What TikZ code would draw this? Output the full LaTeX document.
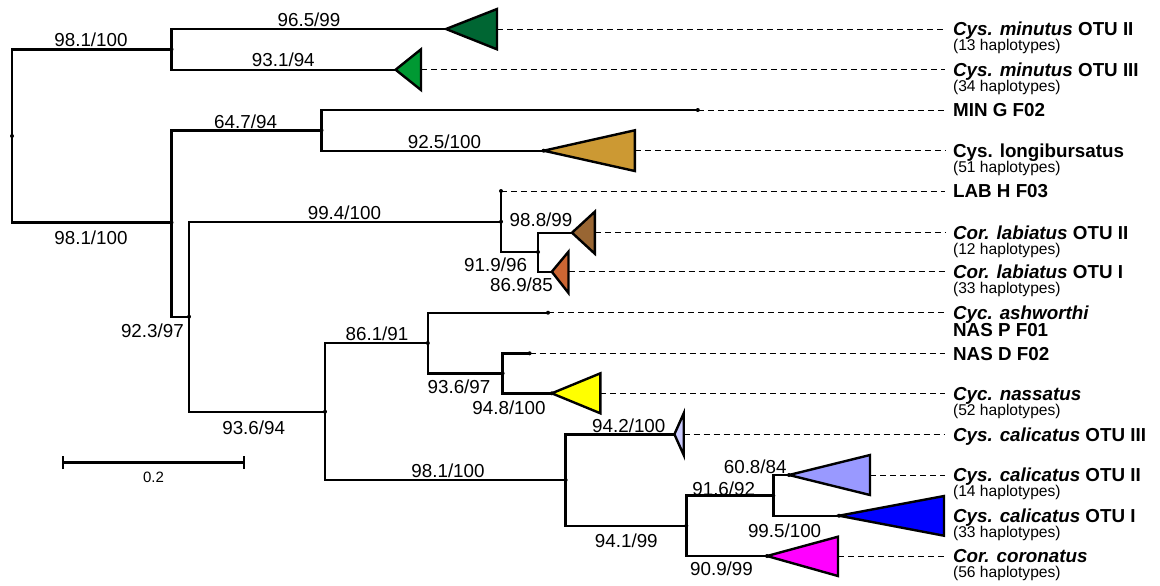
\documentclass[tikz,border=0pt]{standalone}
\usepackage{fontspec}
\setmainfont{Liberation Sans}
\usetikzlibrary{arrows.meta}

\definecolor{cMinII}{RGB}{0,102,51}
\definecolor{cMinIII}{RGB}{0,153,51}
\definecolor{cLong}{RGB}{204,153,51}
\definecolor{cLabII}{RGB}{153,102,51}
\definecolor{cLabI}{RGB}{204,102,51}
\definecolor{cNas}{RGB}{255,255,0}
\definecolor{cCalIII}{RGB}{204,204,255}
\definecolor{cCalII}{RGB}{153,153,255}
\definecolor{cCalI}{RGB}{0,0,255}
\definecolor{cCor}{RGB}{255,0,255}

\begin{document}
\begin{tikzpicture}[x=0.5pt, y=-0.5pt,
  br/.style={line width=1.2pt},
  clade/.style={line width=1.2pt, line join=miter},
  leader/.style={line width=0.5pt, dash pattern=on 3pt off 2pt},
  bs/.style={font=\fontsize{9.4}{11}\selectfont, inner sep=0pt},
  lab/.style={font=\fontsize{9.4}{11}\selectfont\bfseries, anchor=west, inner xsep=3.85pt, inner ysep=0pt, text height=6.73pt, text depth=0pt},
  hap/.style={font=\fontsize{7.8}{9}\selectfont, anchor=base west, inner xsep=3.85pt, inner ysep=0pt}]
\def\r{2}
\def\hs{-7.5pt}

\fill[white] (0,0) rectangle (1160,585);
\useasboundingbox (0,0) rectangle (1160,585);

% inner nodes
\coordinate (root) at (12,136);
\coordinate (nMin) at (171.5,49.3);
\coordinate (nB) at (171.5,222.5);
\coordinate (nC) at (321.5,130.3);
\coordinate (nD) at (189,316.7);
\coordinate (nE) at (501,221.7);
\coordinate (nF) at (538,252);
\coordinate (nI) at (325,411.7);
\coordinate (nG) at (427.8,343);
\coordinate (nH) at (502.6,373.3);
\coordinate (nJ) at (565.6,480);
\coordinate (nK) at (686.3,525.8);
\coordinate (nL) at (773.3,495.5);

% single tips
\coordinate (eMinG) at (697.8,110);
\coordinate (eLabH) at (501,191);
\coordinate (eAsh) at (548,312.7);
\coordinate (eNasD) at (529.6,353.3);

% collapsed clades: apex and middle of the far side
\coordinate (aMinII) at (446,29);      \coordinate (eMinII) at (497,29);
\coordinate (aMinIII) at (395.6,69.7); \coordinate (eMinIII) at (421,69.7);
\coordinate (aLong) at (543.7,150.7);  \coordinate (eLong) at (634.8,150.7);
\coordinate (aLabII) at (572,232.7);   \coordinate (eLabII) at (594.8,232.7);
\coordinate (aLabI) at (551.8,271.7);  \coordinate (eLabI) at (568.5,271.7);
\coordinate (aNas) at (551.8,393.3);   \coordinate (eNas) at (600.4,393.3);
\coordinate (aCalIII) at (674.4,434.3); \coordinate (eCalIII) at (683.7,434.3);
\coordinate (aCalII) at (789,475);     \coordinate (eCalII) at (870,475);
\coordinate (aCalI) at (839,515.7);    \coordinate (eCalI) at (944,515.7);
\coordinate (aCor) at (767,556);       \coordinate (eCor) at (838,556);

\draw[br] (root) |- (nMin);
\draw[br] (root) |- (nB);
\draw[br] (nMin) |- (aMinII);
\draw[br] (nMin) |- (aMinIII);
\draw[br] (nB) |- (nC);
\draw[br] (nB) |- (nD);
\draw[br] (nC) |- (eMinG);
\draw[br] (nC) |- (aLong);
\draw[br] (nD) |- (nE);
\draw[br] (nD) |- (nI);
\draw[br] (nE) |- (eLabH);
\draw[br] (nE) |- (nF);
\draw[br] (nF) |- (aLabII);
\draw[br] (nF) |- (aLabI);
\draw[br] (nI) |- (nG);
\draw[br] (nI) |- (nJ);
\draw[br] (nG) |- (eAsh);
\draw[br] (nG) |- (nH);
\draw[br] (nH) |- (eNasD);
\draw[br] (nH) |- (aNas);
\draw[br] (nJ) |- (aCalIII);
\draw[br] (nJ) |- (nK);
\draw[br] (nK) |- (nL);
\draw[br] (nK) |- (aCor);
\draw[br] (nL) |- (aCalII);
\draw[br] (nL) |- (aCalI);

\filldraw[clade, fill=cMinII] (aMinII) -- (497,9) -- (497,49.3) -- cycle;
\filldraw[clade, fill=cMinIII] (aMinIII) -- (421,49.3) -- (421,90) -- cycle;
\filldraw[clade, fill=cLong] (aLong) -- (634.8,130.3) -- (634.8,171) -- cycle;
\filldraw[clade, fill=cLabII] (aLabII) -- (594.8,211.7) -- (594.8,253.7) -- cycle;
\filldraw[clade, fill=cLabI] (aLabI) -- (568.5,251.7) -- (568.5,293) -- cycle;
\filldraw[clade, fill=cNas] (aNas) -- (600.4,373.3) -- (600.4,413.3) -- cycle;
\filldraw[clade, fill=cCalIII] (aCalIII) -- (683.7,413.3) -- (683.7,455) -- cycle;
\filldraw[clade, fill=cCalII] (aCalII) -- (870,455) -- (870,495) -- cycle;
\filldraw[clade, fill=cCalI] (aCalI) -- (944,496) -- (944,535.7) -- cycle;
\filldraw[clade, fill=cCor] (aCor) -- (838,536.7) -- (838,576) -- cycle;

\fill (root) circle (\r) (nMin) circle (\r) (nB) circle (\r) (nC) circle (\r)
  (nD) circle (\r) (nE) circle (\r) (nF) circle (\r) (nI) circle (\r)
  (nG) circle (\r) (nH) circle (\r) (nJ) circle (\r) (nK) circle (\r)
  (nL) circle (\r) (eMinG) circle (\r) (eLabH) circle (\r) (eAsh) circle (\r)
  (eNasD) circle (\r) (aLong) circle (\r) (aCalII) circle (\r) (aCalI) circle (\r)
  (aCor) circle (\r) (aNas) circle (\r);

% tip labels
\node[lab] (lMinII) at (945,29) {\textit{Cys. minutus} OTU II};
\node[hap] (hMinII) at ([yshift=\hs]lMinII.base west) {(13 haplotypes)};
\node[lab] (lMinIII) at (945,69.7) {\textit{Cys. minutus} OTU III};
\node[hap] (hMinIII) at ([yshift=\hs]lMinIII.base west) {(34 haplotypes)};
\node[lab] (lMinG) at (945,110) {MIN G F02};
\node[lab] (lLong) at (945,150.7) {Cys. longibursatus};
\node[hap] (hLong) at ([yshift=\hs]lLong.base west) {(51 haplotypes)};
\node[lab] (lLabH) at (945,191) {LAB H F03};
\node[lab] (lLabII) at (945,232.7) {\textit{Cor. labiatus} OTU II};
\node[hap] (hLabII) at ([yshift=\hs]lLabII.base west) {(12 haplotypes)};
\node[lab] (lLabI) at (945,271.7) {\textit{Cor. labiatus} OTU I};
\node[hap] (hLabI) at ([yshift=\hs]lLabI.base west) {(33 haplotypes)};
\node[lab] (lAsh) at (945,312.7) {\textit{Cyc. ashworthi}};
\node[lab, anchor=base west] (lNasP) at ([yshift=-8.65pt]lAsh.base west) {NAS P F01};
\node[lab] (lNasD) at (945,353.3) {NAS D F02};
\node[lab] (lNas) at (945,393.3) {\textit{Cyc. nassatus}};
\node[hap] (hNas) at ([yshift=\hs]lNas.base west) {(52 haplotypes)};
\node[lab] (lCalIII) at (945,434.3) {\textit{Cys. calicatus} OTU III};
\node[lab] (lCalII) at (945,475) {\textit{Cys. calicatus} OTU II};
\node[hap] (hCalII) at ([yshift=\hs]lCalII.base west) {(14 haplotypes)};
\node[lab] (lCalI) at (945,515.7) {\textit{Cys. calicatus} OTU I};
\node[hap] (hCalI) at ([yshift=\hs]lCalI.base west) {(33 haplotypes)};
\node[lab] (lCor) at (945,556) {\textit{Cor. coronatus}};
\node[hap] (hCor) at ([yshift=\hs]lCor.base west) {(56 haplotypes)};

\draw[leader] (eMinII) -- (lMinII);
\draw[leader] (eMinIII) -- (lMinIII);
\draw[leader] (eMinG) -- (lMinG);
\draw[leader] (eLong) -- (lLong);
\draw[leader] (eLabH) -- (lLabH);
\draw[leader] (eLabII) -- (lLabII);
\draw[leader] (eLabI) -- (lLabI);
\draw[leader] (eAsh) -- (lAsh);
\draw[leader] (eNasD) -- (lNasD);
\draw[leader] (eNas) -- (lNas);
\draw[leader] (eCalIII) -- (lCalIII);
\draw[leader] (eCalII) -- (lCalII);
\draw[leader] (eCalI) -- (lCalI);
\draw[leader] (eCor) -- (lCor);

% support values
\node[bs] (s1) at (91,39.3) {98.1/100};
\node[bs] (s2) at (309,19.7) {96.5/99};
\node[bs] (s3) at (283.3,59.7) {93.1/94};
\node[bs] (s4) at (245.6,121.7) {64.7/94};
\node[bs] (s5) at (444.4,141.7) {92.5/100};
\node[bs] (s6) at (91,237.3) {98.1/100};
\node[bs] (s7) at (344.4,213) {99.4/100};
\node[bs] (s8) at (541,220) {98.8/99};
\node[bs] (s9) at (495.6,265) {91.9/96};
\node[bs] (s10) at (521.5,285) {86.9/85};
\node[bs] (s11) at (152.4,330.7) {92.3/97};
\node[bs] (s12) at (377,333.7) {86.1/91};
\node[bs] (s13) at (459,386.3) {93.6/97};
\node[bs] (s14) at (509,408) {94.8/100};
\node[bs] (s15) at (253.7,427.5) {93.6/94};
\node[bs] (s16) at (448,470.3) {98.1/100};
\node[bs] (s17) at (628.8,426) {94.2/100};
\node[bs] (s18) at (755.2,467) {60.8/84};
\node[bs] (s19) at (723.7,488.3) {91.6/92};
\node[bs] (s20) at (626.3,541) {94.1/99};
\node[bs] (s21) at (784.6,530.7) {99.5/100};
\node[bs] (s22) at (721.5,569) {90.9/99};

% scale bar
\coordinate (sbL) at (62,462.5);
\coordinate (sbR) at (245,462.5);
\draw[br, {Bar[width=6.5pt]}-{Bar[width=6.5pt]}] (sbL) -- (sbR);
\node[font=\fontsize{7.5}{9}\selectfont, inner sep=0pt] (sbLab) at (153.5,477.3) {0.2};
\end{tikzpicture}
\end{document}
